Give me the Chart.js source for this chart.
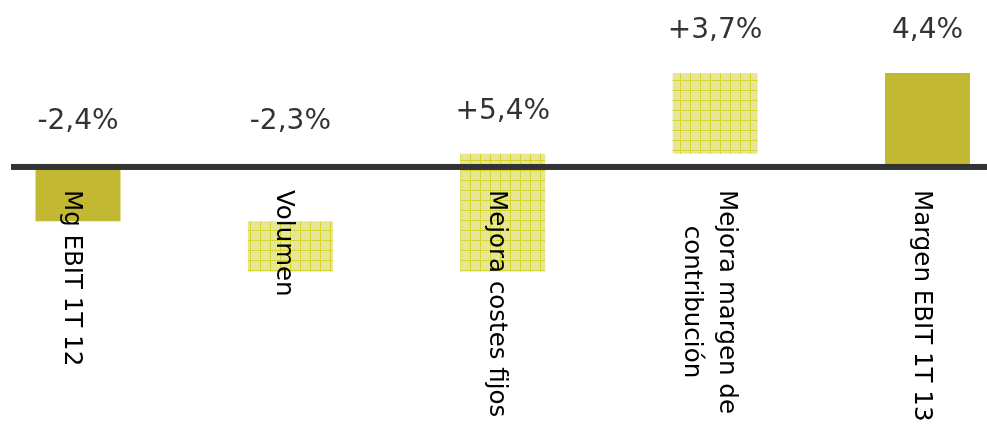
<!DOCTYPE html>
<html>
<head>
<meta charset="utf-8">
<script src="https://cdn.jsdelivr.net/npm/chart.js@4.4.0/dist/chart.umd.min.js"></script>
<style>
  html, body { margin: 0; padding: 0; background: #fff; }
  #wrap { width: 987px; height: 426px; }
</style>
</head>
<body>
<div id="wrap"><canvas id="chart-waterfall"></canvas></div>
<script>
// data
var categories = [["Mg EBIT 1T 12"], ["Volumen"], ["Mejora costes fijos"], ["Mejora margen de", "contribución"], ["Margen EBIT 1T 13"]];
var changes = [-2.4, -2.3, 5.4, 3.7, 4.4];
var isTotal = [true, false, false, false, true];
var valueLabels = ["-2,4%", "-2,3%", "+5,4%", "+3,7%", "4,4%"];

// floating bars [from, to]
var ranges = [];
var running = 0;
for (var i = 0; i < changes.length; i++) {
    if (isTotal[i]) {
        ranges.push([0, changes[i]]);
        running = changes[i];
    } else {
        ranges.push([running, running + changes[i]]);
        running = running + changes[i];
    }
}

// grid pattern for the movement bars
function makePattern() {
    var c = document.createElement("canvas");
    c.width = 10; c.height = 10;
    var p = c.getContext("2d");
    p.fillStyle = "#e3e37a";
    p.fillRect(0, 0, 10, 10);
    p.fillStyle = "#ecec9c";
    for (var y = 0; y < 10; y++) {
        for (var x = 0; x < 10; x++) {
            if ((x + y) % 2 === 0) p.fillRect(x, y, 1, 1);
        }
    }
    p.fillStyle = "#d4d42a";
    p.fillRect(0, 0, 10, 1);
    p.fillRect(0, 0, 1, 10);
    return p.createPattern(c, "repeat");
}
var hatch = makePattern();
var colors = isTotal.map(function (t) { return t ? "#c3b831" : hatch; });

var labelsPlugin = {
    id: "waterfallLabels",
    afterDatasetsDraw: function (chart) {
        var ctx = chart.ctx;
        var xs = chart.scales.x;
        var ys = chart.scales.y;
        var zero = ys.getPixelForValue(0);

        // axis line
        ctx.save();
        ctx.fillStyle = "#333333";
        ctx.fillRect(11, zero - 5, chart.width - 11, 6);

        // value labels
        ctx.font = "28px 'DejaVu Sans'";
        ctx.fillStyle = "#333333";
        ctx.textAlign = "center";
        ctx.textBaseline = "alphabetic";
        for (var i = 0; i < ranges.length; i++) {
            var top = Math.min(ys.getPixelForValue(Math.max(ranges[i][0], ranges[i][1])), zero - 5);
            ctx.fillText(valueLabels[i], xs.getPixelForValue(i), top - 35);
        }

        // rotated category labels
        ctx.font = "24.5px 'DejaVu Sans'";
        ctx.fillStyle = "#000000";
        ctx.textAlign = "left";
        for (var j = 0; j < categories.length; j++) {
            var lines = categories[j];
            var cx = xs.getPixelForValue(j);
            var widths = lines.map(function (l) { return ctx.measureText(l).width; });
            var maxW = Math.max.apply(null, widths);
            for (var k = 0; k < lines.length; k++) {
                var bx = cx - 13 + ((lines.length - 1) / 2 - k) * 35;
                ctx.save();
                ctx.translate(bx, 190 + (maxW - widths[k]) / 2);
                ctx.rotate(Math.PI / 2);
                ctx.fillText(lines[k], 0, 0);
                ctx.restore();
            }
        }
        ctx.restore();
    }
};

var ctx1 = document.getElementById("chart-waterfall").getContext("2d");

new Chart(ctx1, {
    type: "bar",
    data: {
        labels: categories.map(function (c) { return c.join(" "); }),
        datasets: [{
            data: ranges,
            backgroundColor: colors,
            borderWidth: 0,
            barPercentage: 0.4,
            categoryPercentage: 1,
            clip: false
        }]
    },
    options: {
        responsive: true,
        maintainAspectRatio: false,
        animation: false,
        layout: {
            padding: { left: 78, right: 59.5, top: 0, bottom: 0 }
        },
        plugins: {
            legend: { display: false },
            tooltip: { enabled: false }
        },
        scales: {
            x: {
                display: false,
                offset: false
            },
            y: {
                display: false,
                min: -11.79,
                max: 7.75
            }
        }
    },
    plugins: [labelsPlugin]
});
</script>
</body>
</html>
